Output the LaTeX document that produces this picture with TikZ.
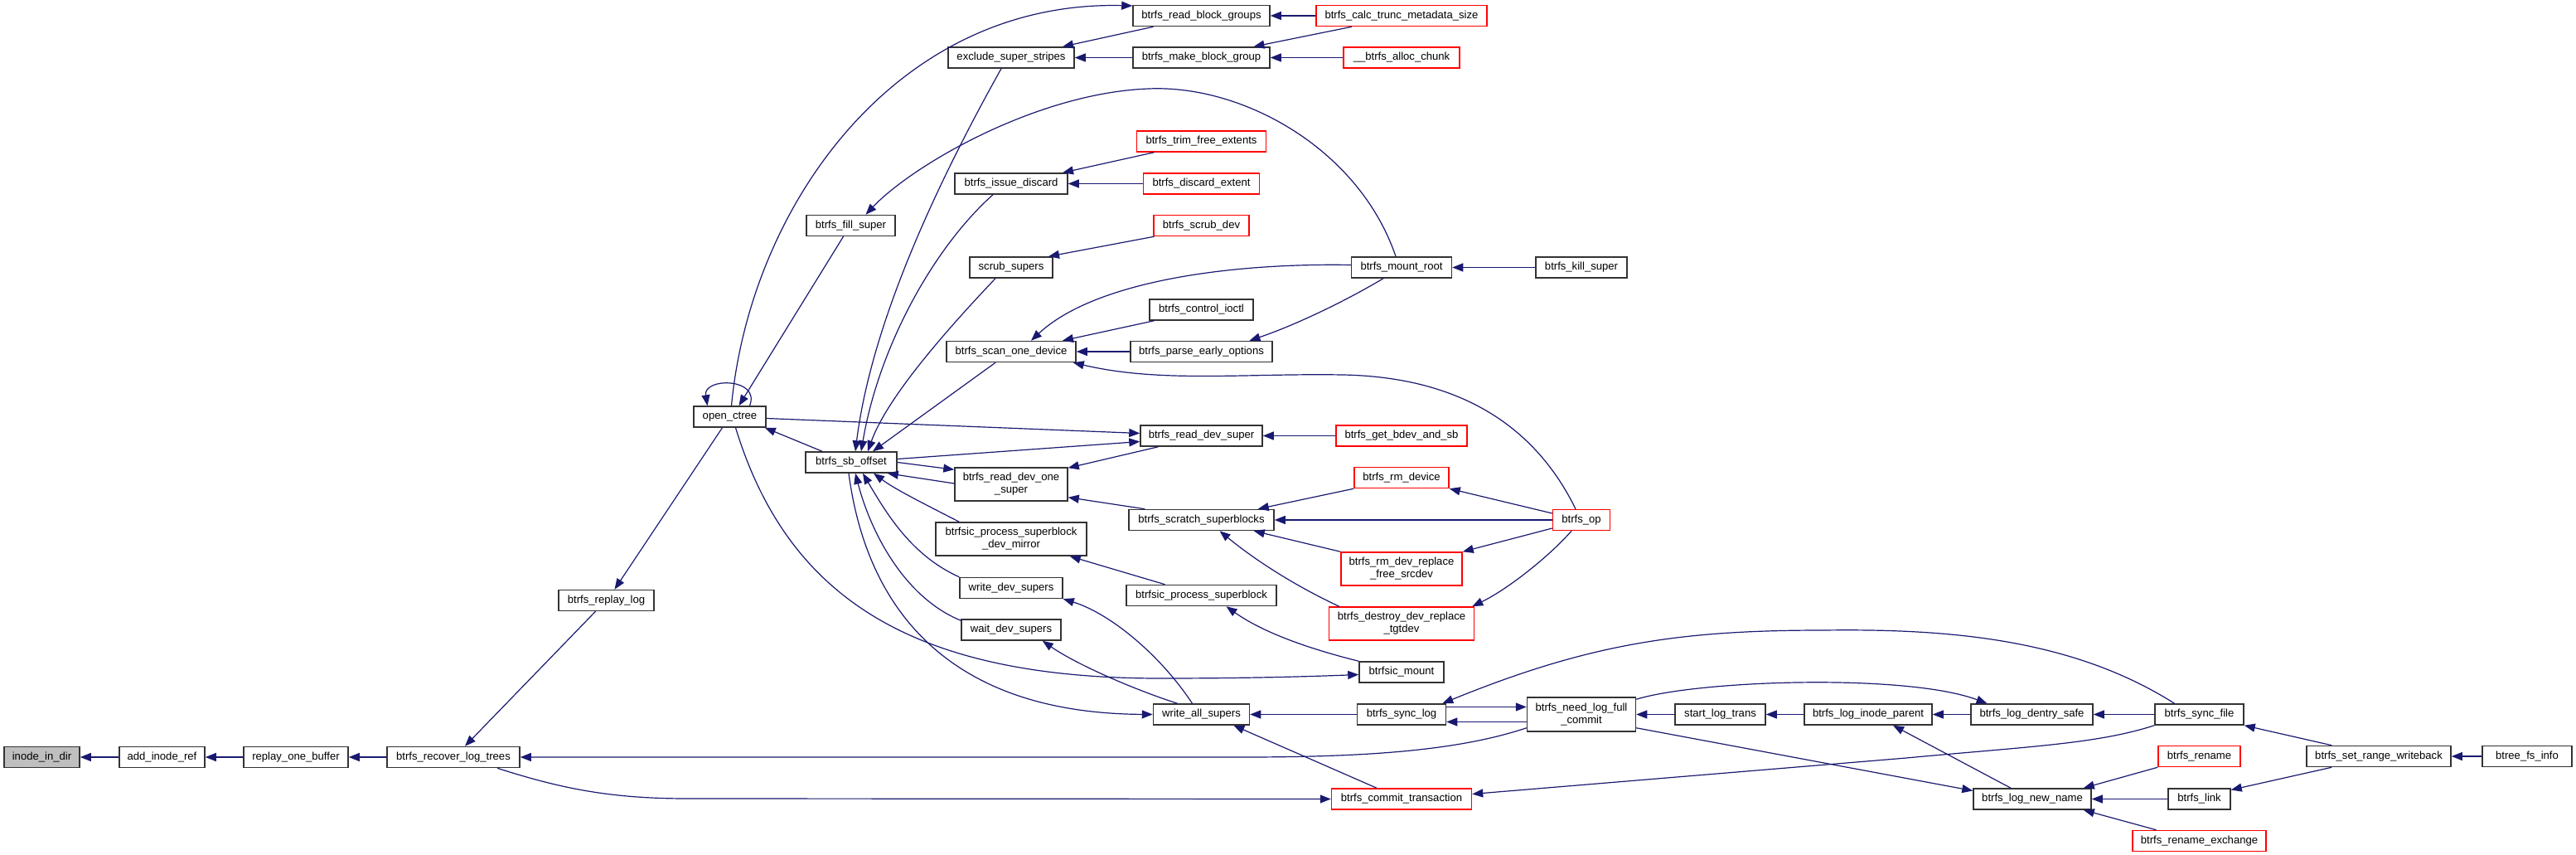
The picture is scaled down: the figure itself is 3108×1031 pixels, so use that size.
\documentclass[tikz,border=0pt]{standalone}
\usepackage{fontspec}
\setmainfont{Liberation Sans}
\usetikzlibrary{arrows.meta,calc}
\definecolor{edgecol}{HTML}{191970}
\definecolor{boxborder}{HTML}{333333}
\definecolor{greyfill}{HTML}{BFBFBF}
\tikzset{
 box/.style={draw=boxborder, line width=0.75pt, fill=white, inner sep=0pt, minimum height=12.5pt, font=\fontsize{6.55}{7.5}\selectfont, align=center},
 rbox/.style={box, draw=red},
 arr/.style={draw=edgecol, line width=0.6pt, -{Triangle[length=6.5pt,width=5pt]}},
}
\begin{document}
\begin{tikzpicture}[x=0.5pt,y=-0.5pt]
\useasboundingbox (0,0) rectangle (3108,1031);
% nodes
\node[box,fill=greyfill,minimum width=45.5pt] (inode) at (50.5,913) {inode\_in\_dir};
\node[box,minimum width=51.5pt] (addref) at (195.5,913) {add\_inode\_ref};
\node[box,minimum width=63pt] (replayone) at (357,913) {replay\_one\_buffer};
\node[box,minimum width=80pt] (recover) at (547,913) {btrfs\_recover\_log\_trees};
\node[box,minimum width=57.5pt] (replaylog) at (731.5,724) {btrfs\_replay\_log};
\node[box,minimum width=43.5pt] (openctree) at (880.5,502.5) {open\_ctree};
\node[box,minimum width=53.5pt] (fillsuper) at (1026.5,272) {btrfs\_fill\_super};
\node[box,minimum width=55pt] (sboffset) at (1027,557.5) {btrfs\_sb\_offset};
\node[box,minimum width=76pt] (exclude) at (1220,69.5) {exclude\_super\_stripes};
\node[box,minimum width=68pt] (issuediscard) at (1220,221.5) {btrfs\_issue\_discard};
\node[box,minimum width=50pt] (scrubsupers) at (1220,322.5) {scrub\_supers};
\node[box,minimum width=78pt] (scanone) at (1220,424) {btrfs\_scan\_one\_device};
\node[box,minimum width=68pt,minimum height=20pt] (readdevone) at (1220,584) {btrfs\_read\_dev\_one\\\_super};
\node[box,minimum width=91pt,minimum height=20pt] (devmirror) at (1220,650) {btrfsic\_process\_superblock\\\_dev\_mirror};
\node[box,minimum width=62pt] (writedev) at (1220,709) {write\_dev\_supers};
\node[box,minimum width=60pt] (waitdev) at (1220,759.5) {wait\_dev\_supers};
\node[box,minimum width=82.5pt] (readbg) at (1449.5,19) {btrfs\_read\_block\_groups};
\node[box,minimum width=82.5pt] (makebg) at (1449.5,69.5) {btrfs\_make\_block\_group};
\node[rbox,minimum width=78pt] (trimfree) at (1449.5,170.5) {btrfs\_trim\_free\_extents};
\node[rbox,minimum width=70pt] (discardext) at (1449.5,221.5) {btrfs\_discard\_extent};
\node[rbox,minimum width=57.5pt] (scrubdev) at (1449.5,272) {btrfs\_scrub\_dev};
\node[box,minimum width=62.5pt] (controlioctl) at (1449.5,373.5) {btrfs\_control\_ioctl};
\node[box,minimum width=85.5pt] (parseearly) at (1449.5,424) {btrfs\_parse\_early\_options};
\node[box,minimum width=73.5pt] (readdevsuper) at (1449.5,525.5) {btrfs\_read\_dev\_super};
\node[box,minimum width=87.5pt] (scratch) at (1449.5,627) {btrfs\_scratch\_superblocks};
\node[box,minimum width=90.5pt] (procsb) at (1449.5,718) {btrfsic\_process\_superblock};
\node[box,minimum width=58pt] (writeall) at (1449.5,861.5) {write\_all\_supers};
\node[rbox,minimum width=103pt] (calctrunc) at (1691,19) {btrfs\_calc\_trunc\_metadata\_size};
\node[rbox,minimum width=70pt] (allocchunk) at (1691,69.5) {\_\_btrfs\_alloc\_chunk};
\node[box,minimum width=60.5pt] (mountroot) at (1691,322.5) {btrfs\_mount\_root};
\node[rbox,minimum width=79pt] (getbdev) at (1691,525.5) {btrfs\_get\_bdev\_and\_sb};
\node[rbox,minimum width=57pt] (rmdevice) at (1691,576) {btrfs\_rm\_device};
\node[rbox,minimum width=73pt,minimum height=20pt] (freesrc) at (1691,686) {btrfs\_rm\_dev\_replace\\\_free\_srcdev};
\node[rbox,minimum width=87.5pt,minimum height=20pt] (tgtdev) at (1691,752) {btrfs\_destroy\_dev\_replace\\\_tgtdev};
\node[box,minimum width=51pt] (btrfsicmount) at (1691,810.5) {btrfsic\_mount};
\node[box,minimum width=53.5pt] (synclog) at (1691,861.5) {btrfs\_sync\_log};
\node[rbox,minimum width=84.5pt] (commit) at (1691,963.5) {btrfs\_commit\_transaction};
\node[box,minimum width=55pt] (killsuper) at (1908,322.5) {btrfs\_kill\_super};
\node[rbox,minimum width=34.5pt] (op) at (1908,627) {btrfs\_op};
\node[box,minimum width=65.5pt,minimum height=20.5pt] (needlog) at (1908,861.5) {btrfs\_need\_log\_full\\\_commit};
\node[box,minimum width=54.5pt] (startlog) at (2075.5,861.5) {start\_log\_trans};
\node[box,minimum width=77pt] (inodeparent) at (2254,861.5) {btrfs\_log\_inode\_parent};
\node[box,minimum width=73.5pt] (dentrysafe) at (2451.5,861.5) {btrfs\_log\_dentry\_safe};
\node[box,minimum width=71pt] (newname) at (2452,963.5) {btrfs\_log\_new\_name};
\node[box,minimum width=53.5pt] (syncfile) at (2653.5,861.5) {btrfs\_sync\_file};
\node[rbox,minimum width=49.5pt] (rename) at (2653.5,912) {btrfs\_rename};
\node[box,minimum width=37.5pt] (link) at (2653.5,963.5) {btrfs\_link};
\node[rbox,minimum width=80.5pt] (renameex) at (2653.5,1014) {btrfs\_rename\_exchange};
\node[box,minimum width=87pt] (setrange) at (2870,912) {btrfs\_set\_range\_writeback};
\node[box,minimum width=54pt] (btreefs) at (3049,912) {btree\_fs\_info};
% edges
\draw[arr] (addref) -- (inode);
\draw[arr] (replayone) -- (addref);
\draw[arr] (recover) -- (replayone);
\draw[arr] ($(replaylog.south)+(-13,0)$) -- ($(recover.north)+(14,0)$);
\draw[arr] ($(openctree.south)+(-9,0)$) -- ($(replaylog.north)+(10,0)$);
\draw[arr] ($(needlog.south west)+(0,-5)$) .. controls (1760,905) and (1650,913) .. (1500,913) -- (recover.east);
\draw[arr] ($(recover.south)+(53,0)$) .. controls (680,952) and (740,963) .. (830,963) -- (commit.west);
\draw[arr] ($(openctree.north)+(24,0)$) .. controls (918,455) and (848,455) .. ($(openctree.north)+(-27,0)$);
\draw[arr] ($(fillsuper.south)+(-9,0)$) -- ($(openctree.north)+(11,0)$);
\draw[arr] ($(openctree.north)+(2,0)$) .. controls (905,250) and (1080,0) .. ($(readbg.west)+(0,-12)$);
\draw[arr] ($(readbg.south)+(-58,0)$) -- ($(exclude.north)+(62,0)$);
\draw[arr] (makebg) -- (exclude);
\draw[arr] (calctrunc) -- (readbg);
\draw[arr] ($(calctrunc.south)+(-60,0)$) -- ($(makebg.north)+(63,0)$);
\draw[arr] (allocchunk) -- (makebg);
\draw[arr] ($(exclude.south)+(-12,0)$) .. controls (1120,240) and (1050,400) .. ($(sboffset.north)+(5,0)$);
\draw[arr] ($(mountroot.north)+(-7,0)$) .. controls (1640,180) and (1500,102) .. (1386,107) .. controls (1250,112) and (1100,200) .. ($(fillsuper.north)+(18,0)$);
\draw[arr] ($(trimfree.south)+(-57,0)$) -- ($(issuediscard.north)+(62,0)$);
\draw[arr] (discardext) -- (issuediscard);
\draw[arr] ($(issuediscard.south)+(-22,0)$) .. controls (1125,300) and (1060,420) .. ($(sboffset.north)+(12,0)$);
\draw[arr] ($(scrubdev.south)+(-57,0)$) -- ($(scrubsupers.north)+(45,0)$);
\draw[arr] ($(scrubsupers.south)+(-19,0)$) .. controls (1140,400) and (1070,480) .. ($(sboffset.north)+(20,0)$);
\draw[arr] ($(mountroot.west)+(0,-3)$) .. controls (1480,317) and (1320,340) .. ($(scanone.north)+(24,0)$);
\draw[arr] ($(controlioctl.south)+(-57,0)$) -- ($(scanone.north)+(62,0)$);
\draw[arr] (parseearly) -- (scanone);
\draw[arr] ($(mountroot.south)+(-22,0)$) .. controls (1620,365) and (1560,393) .. ($(parseearly.north)+(58,0)$);
\draw[arr] ($(op.north)+(-7,0)$) .. controls (1860,530) and (1780,455) .. (1620,452) .. controls (1500,450) and (1400,462) .. ($(scanone.south east)+(-4,0)$);
\draw[arr] ($(scanone.south)+(-19,0)$) -- ($(sboffset.north)+(26,0)$);
\draw[arr] ($(openctree.east)+(0,2)$) -- ($(readdevsuper.west)+(0,-3)$);
\draw[arr] ($(sboffset.east)+(0,-4)$) -- ($(readdevsuper.west)+(0,7)$);
\draw[arr] ($(readdevsuper.south)+(-52,0)$) -- ($(readdevone.north east)+(0,1)$);
\draw[arr] (getbdev) -- (readdevsuper);
\draw[arr] (sboffset.east) -- ($(readdevone.north west)+(0,3)$);
\draw[arr] ($(readdevone.west)+(0,-1)$) -- ($(sboffset.south east)+(-12,0)$);
\draw[arr] ($(sboffset.north)+(-35,0)$) -- ($(openctree.south east)+(-2,0)$);
\draw[arr] ($(devmirror.north west)+(29,0)$) .. controls (1110,605) and (1080,590) .. ($(sboffset.south)+(27,0)$);
\draw[arr] (writedev.north west) .. controls (1100,670) and (1070,620) .. ($(sboffset.south)+(14,0)$);
\draw[arr] ($(waitdev.north west)+(0,2)$) .. controls (1090,720) and (1050,640) .. ($(sboffset.south)+(5,0)$);
\draw[arr] ($(sboffset.south)+(-3,0)$) .. controls (1045,730) and (1140,860) .. (writeall.west);
\draw[arr] ($(writeall.north)+(-11,0)$) .. controls (1400,790) and (1340,740) .. (writedev.south east);
\draw[arr] ($(writeall.north)+(-29,0)$) .. controls (1370,832) and (1300,802) .. ($(waitdev.south east)+(-23,0)$);
\draw[arr] ($(scratch.north west)+(20,0)$) -- ($(readdevone.south east)+(0,-5)$);
\draw[arr] ($(procsb.north)+(-44,0)$) -- ($(devmirror.south east)+(-21,0)$);
\draw[arr] (btrfsicmount.north west) .. controls (1570,780) and (1520,760) .. ($(procsb.south)+(30,0)$);
\draw[arr] (rmdevice.south west) -- ($(scratch.north east)+(-20,0)$);
\draw[arr] (op) -- (scratch);
\draw[arr] (freesrc.north west) -- ($(scratch.south east)+(-25,0)$);
\draw[arr] ($(tgtdev.north west)+(13,0)$) .. controls (1570,710) and (1520,680) .. ($(scratch.south)+(22,0)$);
\draw[arr] ($(op.west)+(0,-8)$) -- (rmdevice.south east);
\draw[arr] ($(op.west)+(0,10)$) -- (freesrc.north east);
\draw[arr] ($(op.south)+(-12,0)$) .. controls (1870,670) and (1820,710) .. ($(tgtdev.north east)+(-3,0)$);
\draw[arr] ($(openctree.south)+(7,0)$) .. controls (950,720) and (1100,818) .. (1400,818) .. controls (1520,818) and (1600,815) .. ($(btrfsicmount.west)+(0,3)$);
\draw[arr] (synclog) -- (writeall);
\draw[arr] ($(commit.north)+(-30,0)$) -- ($(writeall.south east)+(-20,0)$);
\draw[arr] ($(synclog.east)+(0,-9)$) -- ($(needlog.west)+(0,-9)$);
\draw[arr] ($(needlog.west)+(0,9)$) -- ($(synclog.east)+(0,9)$);
\draw[arr] ($(syncfile.north)+(-30,0)$) .. controls (2500,770) and (2350,758) .. (2200,760) .. controls (2030,760) and (1920,775) .. ($(synclog.north east)+(-5,0)$);
\draw[arr] (startlog) -- (needlog);
\draw[arr] (inodeparent) -- (startlog);
\draw[arr] (dentrysafe) -- (inodeparent);
\draw[arr] (syncfile) -- (dentrysafe);
\draw[arr] ($(needlog.north east)+(0,3)$) .. controls (2050,820) and (2300,812) .. ($(dentrysafe.north)+(-54,0)$);
\draw[arr] ($(needlog.south east)+(0,-5)$) -- ($(newname.west)+(0,-10)$);
\draw[arr] ($(newname.north)+(-26,0)$) -- ($(inodeparent.south)+(30,0)$);
\draw[arr] (syncfile.south west) .. controls (2530,897) and (2450,900) .. (2300,914) -- ($(commit.east)+(0,-6)$);
\draw[arr] ($(setrange.north west)+(31,0)$) -- (syncfile.south east);
\draw[arr] ($(setrange.south west)+(31,0)$) -- ($(link.east)+(0,-11)$);
\draw[arr] (btreefs) -- (setrange);
\draw[arr] (rename.south west) -- ($(newname.north east)+(-10,0)$);
\draw[arr] (link) -- (newname);
\draw[arr] ($(renameex.north)+(-52,0)$) -- ($(newname.south east)+(-10,0)$);
\draw[arr] (killsuper) -- (mountroot);
\end{tikzpicture}
\end{document}
